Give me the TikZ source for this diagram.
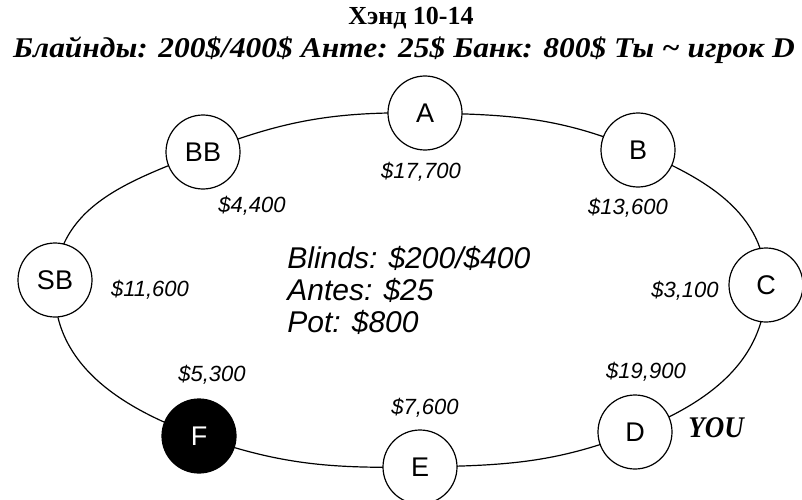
\documentclass[tikz,border=0pt]{standalone}
\usepackage{fontspec}
\setmainfont{Liberation Serif}
\setsansfont{Liberation Sans}
\usetikzlibrary{backgrounds}
\begin{document}
\begin{tikzpicture}[x=0.5pt,y=0.5pt,
  seat/.style={circle,draw,line width=0.6pt,minimum size=37pt,inner sep=0pt,fill=white,font=\sffamily\fontsize{13.5}{14}\selectfont},
  hero/.style={seat,fill=black,text=white},
  money/.style={font=\sffamily\itshape\fontsize{11}{12}\selectfont},
  rail/.style={line width=0.6pt}]
\useasboundingbox (0,0) rectangle (802,499);
\node[font=\bfseries\fontsize{13}{14}\selectfont] (t1) at (411,481) {Хэнд 10-14};
\node[font=\bfseries\itshape\fontsize{14.3}{15}\selectfont] (t2) at (404,449) {\scalebox{1.1}[1]{Блайнды: 200\$/400\$ Анте: 25\$ Банк: 800\$ Ты \textasciitilde{} игрок D}};
\node[seat] (A) at (425,386) {A};
\node[seat] (B) at (638,349) {B};
\node[seat] (C) at (766,214) {C};
\node[seat] (D) at (635,67) {D};
\node[seat] (E) at (420,32) {E};
\node[hero] (F) at (199,63) {F};
\node[seat] (SB) at (55,219) {SB};
\node[seat] (BB) at (203,347) {BB};
\begin{scope}[on background layer]
\draw[rail] (A.center) to[out=-1,in=157] (B.center);
\draw[rail] (B.center) to[out=-23,in=90] (C.center);
\draw[rail] (C.center) to[out=-90,in=21.6] (D.center);
\draw[rail] (D.center) to[out=201.6,in=1] (E.center);
\draw[rail] (E.center) to[out=181,in=-19.6] (F.center);
\draw[rail] (F.center) to[out=160.4,in=-94] (SB.center);
\draw[rail] (SB.center) to[out=86,in=201.6] (BB.center);
\draw[rail] (BB.center) to[out=21.6,in=179] (A.center);
\end{scope}
\node[money] (mA) at (421,327) {\$17,700};
\node[money] (mB) at (628,291) {\$13,600};
\node[money] (mBB) at (252,293) {\$4,400};
\node[money] (mSB) at (150,209) {\$11,600};
\node[money] (mC) at (685,208) {\$3,100};
\node[money] (mD) at (646,127) {\$19,900};
\node[money] (mE) at (425,91) {\$7,600};
\node[money] (mF) at (212,124) {\$5,300};
\node[font=\bfseries\itshape\fontsize{15}{16}\selectfont] (you) at (716,71) {\scalebox{0.9}[1]{YOU}};
\node[anchor=west,align=left,inner sep=0pt,font=\sffamily\itshape\fontsize{15}{16}\selectfont] (info) at (287,209) {Blinds: \$200/\$400\\Antes: \$25\\Pot: \$800};
\end{tikzpicture}
\end{document}
